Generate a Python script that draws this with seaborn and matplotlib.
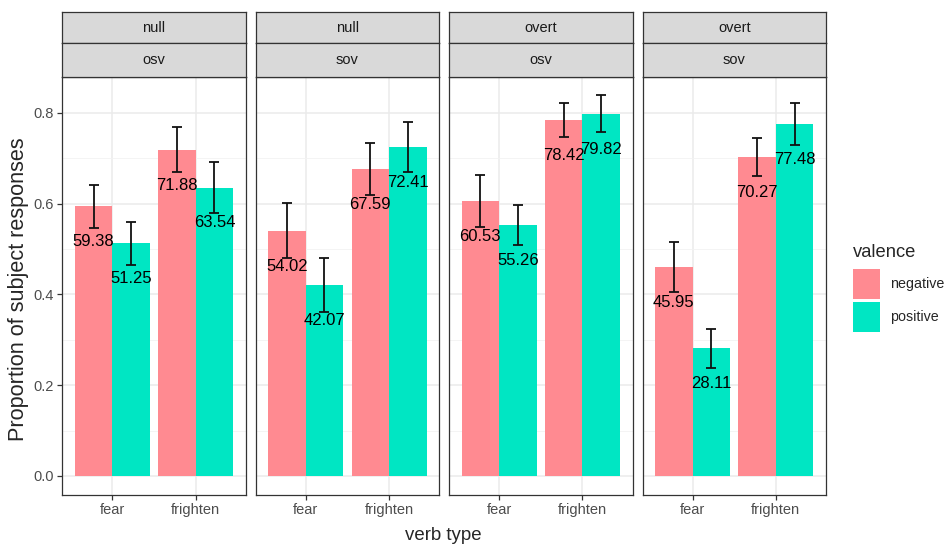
import matplotlib
matplotlib.use("Agg")
import matplotlib.pyplot as plt
from matplotlib.patches import Patch
from matplotlib.ticker import MultipleLocator
import numpy as np
import pandas as pd
import seaborn as sns

# Data
subject_type = ["null", "null", "overt", "overt"]
word_order = ["osv", "sov", "osv", "sov"]
verb_types = ["fear", "frighten"]
valences = ["negative", "positive"]

# percentages per panel: fear-neg, fear-pos, frighten-neg, frighten-pos
pct_null_osv = [59.38, 51.25, 71.88, 63.54]
pct_null_sov = [54.02, 42.07, 67.59, 72.41]
pct_overt_osv = [60.53, 55.26, 78.42, 79.82]
pct_overt_sov = [45.95, 28.11, 70.27, 77.48]

# standard errors (proportion units)
se_null_osv = [0.047, 0.048, 0.050, 0.057]
se_null_sov = [0.060, 0.060, 0.057, 0.055]
se_overt_osv = [0.058, 0.044, 0.037, 0.040]
se_overt_sov = [0.055, 0.043, 0.042, 0.046]

all_pct = [pct_null_osv, pct_null_sov, pct_overt_osv, pct_overt_sov]
all_se = [se_null_osv, se_null_sov, se_overt_osv, se_overt_sov]

palette = {"negative": "#FF8A91", "positive": "#00E6C3"}

rows = []
for p in range(4):
    k = 0
    for v in verb_types:
        for val in valences:
            rows.append(dict(panel=p, verb=v, valence=val,
                             pct=all_pct[p][k], prop=all_pct[p][k] / 100,
                             se=all_se[p][k]))
            k += 1
df = pd.DataFrame(rows)

sns.set_style("white")
plt.rcParams['font.family'] = ['Liberation Sans', 'DejaVu Sans']

W, H = 946, 546
fig = plt.figure(figsize=(W / 100, H / 100), dpi=100)


def px_axes(x0, y0, x1, y1):
    return fig.add_axes([x0 / W, 1 - y1 / H, (x1 - x0) / W, (y1 - y0) / H])


panel_left = [62.3, 255.7, 449.1, 642.5]
panel_w = 183.4
strip_top, strip_mid, strip_bot = 11.7, 43.5, 76.7
panel_bot = 495.0
border_col = "#333333"
font_size = 12

for p in range(4):
    x0 = panel_left[p]
    x1 = x0 + panel_w
    ax = px_axes(x0, strip_bot, x1, panel_bot)
    sub = df[df.panel == p]
    sns.barplot(data=sub, x="verb", y="prop", hue="valence", order=verb_types,
                hue_order=valences, palette=palette, errorbar=None, width=0.9,
                saturation=1, legend=False, linewidth=0, ax=ax, zorder=2)

    # error bars and labels
    for i, v in enumerate(verb_types):
        for j, val in enumerate(valences):
            r = sub[(sub.verb == v) & (sub.valence == val)].iloc[0]
            xc = i + (j - 0.5) * 0.45
            ax.errorbar(xc, r.prop, yerr=r.se, color="#111111", lw=1.3,
                        capsize=3.3, capthick=1.3, zorder=3)
            ax.annotate(f"{r.pct:.2f}", (xc, r.prop), xytext=(0, -25.5),
                        textcoords="offset points", ha="center", va="center",
                        fontsize=font_size, color="black", zorder=4)

    ax.set_xlim(-0.6, 1.6)
    ax.set_ylim(-0.042, 0.8795)
    ax.yaxis.set_major_locator(MultipleLocator(0.2))
    ax.yaxis.set_minor_locator(MultipleLocator(0.1))
    ax.set_axisbelow(True)
    ax.grid(True, which="major", color="#EBEBEB", lw=1.1)
    ax.grid(True, which="minor", axis="y", color="#F2F2F2", lw=0.6)
    ax.set_xlabel("")
    ax.set_ylabel("")
    for s in ax.spines.values():
        s.set_visible(True)
        s.set_color(border_col)
        s.set_linewidth(0.9)
    ax.tick_params(axis="x", bottom=True, length=3.6, width=0.9, color=border_col,
                   labelcolor="#4D4D4D", labelsize=10.5, pad=2.5)
    if p == 0:
        ax.set_yticks([0.0, 0.2, 0.4, 0.6, 0.8])
        ax.set_yticklabels(["0.0", "0.2", "0.4", "0.6", "0.8"])
        ax.tick_params(axis="y", left=True, length=3.6, width=0.9, color=border_col,
                       labelcolor="#4D4D4D", labelsize=10.5, pad=2.5)
    else:
        ax.tick_params(axis="y", left=False, labelleft=False)

    # facet strips
    for (ya, yb, lab) in [(strip_top, strip_mid, subject_type[p]),
                          (strip_mid, strip_bot, word_order[p])]:
        sax = px_axes(x0, ya, x1, yb)
        sax.set_facecolor("#D9D9D9")
        sax.set_xticks([])
        sax.set_yticks([])
        for s in sax.spines.values():
            s.set_visible(True)
            s.set_color(border_col)
            s.set_linewidth(0.9)
        sax.text(0.5, 0.5, lab, ha="center", va="center", fontsize=10.5,
                 color="#1A1A1A", transform=sax.transAxes)

fig.text(443.7 / W, 1 - 535 / H, "verb type", ha="center", va="center", fontsize=13.4)
fig.text(18.5 / W, 1 - 289 / H, "Proportion of subject responses", ha="center",
         va="center", rotation=90, fontsize=15.6)

# legend
fig.text(853 / W, 1 - 257 / H, "valence", ha="left", va="baseline", fontsize=13.2)
handles = [Patch(facecolor=palette[v], edgecolor="none", label=v) for v in valences]
leg = fig.legend(handles=handles, loc="upper left",
                 bbox_to_anchor=(853 / W, 1 - 269 / H), frameon=False,
                 fontsize=10.3, handlelength=1.9,
                 handleheight=2.85, labelspacing=0.19, handletextpad=0.72,
                 borderpad=0, borderaxespad=0)

fig.savefig("out.png", dpi=100)
